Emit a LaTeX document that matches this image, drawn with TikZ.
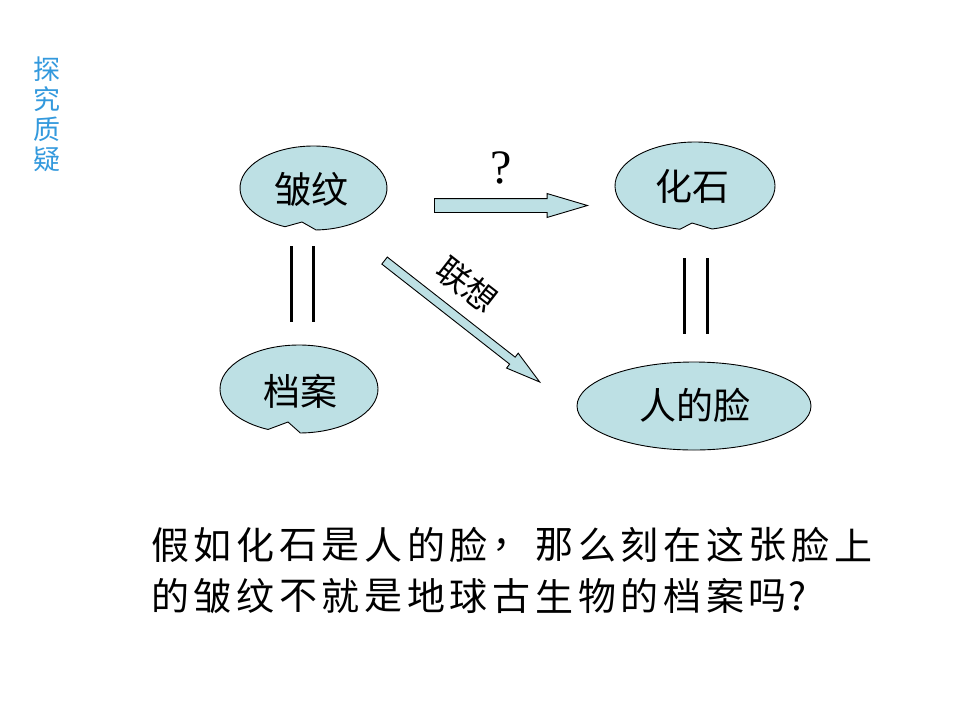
\documentclass[tikz,border=0pt]{standalone}
\usepackage{fontspec}
\newfontfamily\cjk{Noto Sans CJK SC}
\newfontfamily\tnr{Liberation Serif}
\usetikzlibrary{shapes.arrows}
\definecolor{bub}{RGB}{189,224,228}
\definecolor{ttl}{RGB}{51,153,221}
\tikzset{
  bubble/.style={draw=black, fill=bub, line width=0.9pt},
  lbl/.style={font=\cjk\fontsize{37}{40}\selectfont, inner sep=0pt},
  blockarrow/.style={single arrow, draw=black, fill=bub, line width=0.9pt,
    anchor=tail, inner xsep=0pt, minimum width=0pt},
  eqline/.style={line width=3pt},
  bodychar/.style={font=\cjk\fontsize{38}{40}\selectfont, inner sep=0pt},
  ttlchar/.style={font=\cjk\fontsize{27}{29}\selectfont, text=ttl, inner sep=0pt},
}
% cx, cy, rx, ry, right notch angle, left notch angle, tip x, tip y
\newcommand\notchbubble[8]{%
  \path[bubble] ({#1+#3*cos(#5)},{#2+#4*sin(#5)})
    arc[start angle=#5, end angle={#6-360}, x radius=#3, y radius=#4]
    -- (#7,#8) -- cycle;}
\begin{document}
\begin{tikzpicture}[x=1pt,y=-1pt]
\useasboundingbox (0,0) rectangle (960,720);

% title
\foreach \c [count=\i from 0] in {探,究,质,疑}
  \node[ttlchar] (ttl-\i) at (47,{69+30*\i}) {\c};

% bubbles
\notchbubble{313.5}{188}{73.5}{42}{88}{112.8}{302}{222}
\notchbubble{695}{186}{80}{44}{77.7}{100.8}{692}{223}
\notchbubble{299}{389}{79}{44}{89}{113.1}{288}{422}
\path[bubble] (694,406) ellipse[x radius=117, y radius=44];

\node[lbl] (zw) at (311,190) {皱纹};
\node[lbl] (hs) at (692,186) {化石};
\node[lbl] (da) at (300,391) {档案};
\node[lbl] (rl) at (695,405) {人的脸};

% equal lines
\draw[eqline] (291,246) -- (291,322);
\draw[eqline] (313,246) -- (313,322);
\draw[eqline] (684,258) -- (684,334);
\draw[eqline] (707,258) -- (707,334);

% block arrows
\node[blockarrow, inner ysep=6.5pt, minimum height=153pt,
  single arrow head extend=5pt, single arrow tip angle=33] (ha) at (434,205.5) {};
\node[blockarrow, inner ysep=4pt, minimum height=197pt, rotate=-38.05,
  single arrow head extend=5pt, single arrow tip angle=30.5] (da2) at (384.2,260.3) {};

\node[font=\tnr\fontsize{48}{50}\selectfont, inner sep=0pt] (q) at (501,168) {?};
\node[font=\cjk\fontsize{33}{35}\selectfont, inner sep=0pt, rotate=-38] (lx) at (467,285) {联想};

% bottom text
\foreach \c [count=\i from 0] in {假,如,化,石,是,人,的,脸,，,那,么,刻,在,这,张,脸,上}
  \node[bodychar] (a-\i) at ({170+42.7*\i},545) {\c};
\foreach \c [count=\i from 0] in {的,皱,纹,不,就,是,地,球,古,生,物,的,档,案,吗}
  \node[bodychar] (b-\i) at ({170+42.7*\i},596) {\c};
\node[bodychar, anchor=west] (qm) at ([xshift=1pt]b-14.east) {?};
\end{tikzpicture}
\end{document}
